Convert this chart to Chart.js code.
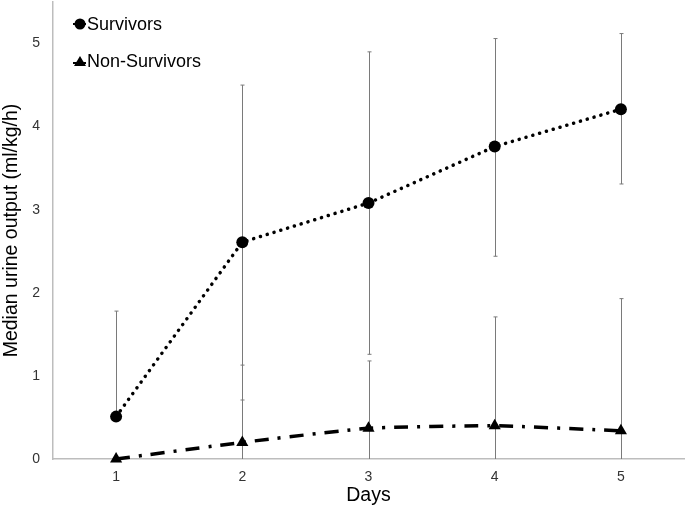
<!DOCTYPE html>
<html>
<head>
<meta charset="utf-8">
<script src="https://cdn.jsdelivr.net/npm/chart.js@4.4.0/dist/chart.umd.min.js"></script>
<style>
  html, body { margin: 0; padding: 0; background: #fff; }
  #wrap { width: 685px; height: 512px; position: relative; }
</style>
</head>
<body>
<div id="wrap"><canvas id="urine" width="685" height="512"></canvas></div>
<script>
// values
var days = ["1", "2", "3", "4", "5"];
var survivors = [0.51, 2.61, 3.08, 3.76, 4.21];
var survLow = [0.51, 0.71, 1.26, 2.44, 3.31];
var survHigh = [1.78, 4.5, 4.9, 5.06, 5.12];
var nonSurvivors = [0, 0.2, 0.37, 0.4, 0.34];
var nonLow = [0, 0, 0, 0, 0];
var nonHigh = [0, 1.13, 1.18, 1.71, 1.93];
var yTicks = [0, 1, 2, 3, 4, 5];

var font = '"Liberation Sans", Arial, sans-serif';

var errorBars = {
  id: 'errorBars',
  beforeDatasetsDraw: function(chart) {
    var ctx = chart.ctx, xs = chart.scales.x, ys = chart.scales.y;
    var sets = [[survLow, survHigh], [nonLow, nonHigh]];
    ctx.save();
    ctx.strokeStyle = '#7a7a7a';
    ctx.lineWidth = 1;
    sets.forEach(function(s) {
      for (var i = 0; i < days.length; i++) {
        var x = Math.round(xs.getPixelForValue(i)) + 0.5;
        var lo = ys.getPixelForValue(s[0][i]);
        var hi = ys.getPixelForValue(s[1][i]);
        if (Math.abs(lo - hi) < 1) continue;
        ctx.beginPath();
        ctx.moveTo(x, lo); ctx.lineTo(x, hi);
        ctx.moveTo(x - 2, hi); ctx.lineTo(x + 2, hi);
        if (s[0][i] > 0) { ctx.moveTo(x - 2, lo); ctx.lineTo(x + 2, lo); }
        ctx.stroke();
      }
    });
    ctx.restore();
  }
};

var legendBox = {
  id: 'legendBox',
  afterDraw: function(chart) {
    var ctx = chart.ctx;
    ctx.save();
    ctx.fillStyle = '#000';
    ctx.strokeStyle = '#000';
    ctx.lineWidth = 2;
    // survivors
    ctx.beginPath(); ctx.moveTo(73, 24); ctx.lineTo(86, 24); ctx.stroke();
    ctx.beginPath(); ctx.arc(80, 24, 5.5, 0, Math.PI * 2); ctx.fill();
    // non-survivors
    ctx.beginPath(); ctx.moveTo(73, 63); ctx.lineTo(86, 63); ctx.stroke();
    ctx.beginPath(); ctx.moveTo(80, 56); ctx.lineTo(86, 66); ctx.lineTo(74, 66); ctx.closePath(); ctx.fill();
    ctx.font = '18px ' + font;
    ctx.textBaseline = 'middle';
    ctx.fillText('Survivors', 87, 25);
    ctx.fillText('Non-Survivors', 87, 62);
    ctx.restore();
  }
};

new Chart(document.getElementById('urine'), {
  type: 'line',
  data: {
    labels: days,
    datasets: [{
      label: 'Survivors',
      data: survivors,
      borderColor: '#000',
      backgroundColor: '#000',
      borderWidth: 3.5,
      borderDash: [0.1, 7],
      borderCapStyle: 'round',
      pointStyle: 'circle',
      pointRadius: 6,
      pointBorderWidth: 0,
      tension: 0,
      clip: false
    }, {
      label: 'Non-Survivors',
      data: nonSurvivors,
      borderColor: '#000',
      backgroundColor: '#000',
      borderWidth: 3.5,
      borderDash: [14, 9, 3, 9],
      pointStyle: 'triangle',
      pointRadius: 7,
      pointBorderWidth: 0,
      tension: 0.15,
      clip: false
    }]
  },
  options: {
    responsive: false,
    animation: false,
    devicePixelRatio: 1,
    layout: { autoPadding: false, padding: { top: 2, right: 1, left: 0, bottom: 0 } },
    plugins: { legend: { display: false }, tooltip: { enabled: false } },
    scales: {
      x: {
        offset: true,
        grid: { display: false },
        border: { display: true, color: '#bdbdbd', width: 1.5 },
        ticks: { color: '#333', font: { size: 14, family: font }, padding: 2 },
        title: { display: true, text: 'Days', color: '#000', font: { size: 19.5, family: font }, padding: { top: 0, bottom: 5 } },
        afterFit: function(s) { s.height = 53; s.paddingLeft = 0; s.paddingRight = 0; }
      },
      y: {
        min: 0,
        max: 5.5,
        grid: { display: false },
        border: { display: true, color: '#bdbdbd', width: 1.5 },
        afterBuildTicks: function(s) { s.ticks = yTicks.map(function(v) { return { value: v }; }); },
        ticks: { color: '#333', font: { size: 14, family: font }, padding: 5 },
        title: { display: true, text: 'Median urine output (ml/kg/h)', color: '#000', font: { size: 19.5, family: font }, padding: { top: 0, bottom: 0 } },
        afterFit: function(s) { s.width = 53; s.paddingTop = 0; s.paddingBottom = 0; }
      }
    }
  },
  plugins: [errorBars, legendBox]
});
</script>
</body>
</html>
